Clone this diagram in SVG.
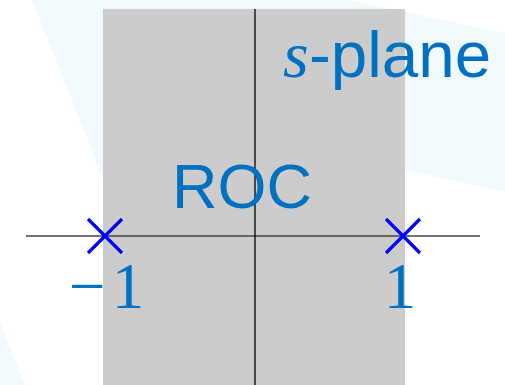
<svg xmlns="http://www.w3.org/2000/svg" width="505" height="385" viewBox="0 0 505 385">
<style>
.bg{fill:#f2f9fc;stroke:none}
.lbl{fill:#0070c0}
.sans{font-family:"Liberation Sans",Arial,sans-serif}
.serif{font-family:"Liberation Serif","Times New Roman",serif}
.pole{stroke:#0000ff;stroke-width:3.2;fill:none}
</style>
<rect width="505" height="385" fill="#ffffff"/>
<g id="watermark">
<polygon class="bg" points="32,0 348,0 505,33 505,192 405,170 300,190 103,178"/>
<polygon class="bg" points="0,323 25,385 0,385"/>
</g>
<g id="roc-region">
<rect x="103" y="9" width="302" height="376" fill="#cccccc"/>
</g>
<g id="axes">
<line x1="26" y1="236" x2="480" y2="236" stroke="#444444" stroke-width="1.6"/>
<line x1="255" y1="9" x2="255" y2="385" stroke="#000000" stroke-width="1.3"/>
</g>
<g id="pole-left">
<path class="pole" d="M88,219 L122,253 M122,219 L88,253"/>
<text class="lbl serif" x="69" y="308" font-size="65">−<tspan dx="6">1</tspan></text>
</g>
<g id="pole-right">
<path class="pole" d="M386,219 L420,253 M420,219 L386,253"/>
<text class="lbl serif" x="400" y="308" font-size="65" text-anchor="middle">1</text>
</g>
<g id="roc-label">
<text class="lbl sans" x="172" y="208" font-size="63">ROC</text>
</g>
<g id="plane-label">
<text class="lbl serif" x="283" y="77" font-size="66" font-style="italic">s</text>
<text class="lbl sans" x="309" y="77" font-size="65.5">-plane</text>
</g>
</svg>
